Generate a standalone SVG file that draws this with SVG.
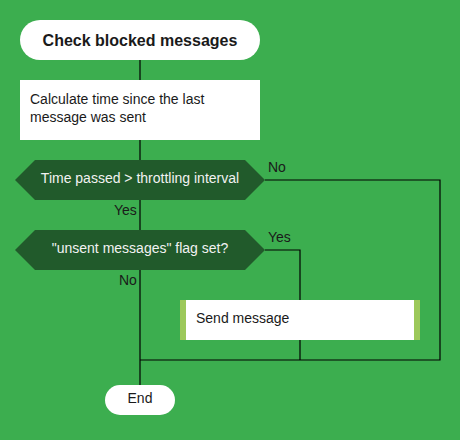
<svg xmlns="http://www.w3.org/2000/svg" width="460" height="440" viewBox="0 0 460 440">
<style>
text{font-family:"Liberation Sans",Arial,sans-serif;font-size:14px;fill:#1a1a1a}
.t{fill:#fff}
.d{fill:#215a2b}
.dt{fill:#f2f2f2;text-anchor:middle}
.c{text-anchor:middle}
.ln{fill:none;stroke:#000;stroke-width:1.2}
</style>
<rect width="460" height="440" fill="#3cae4f"/>
<g id="connectors">
<path class="ln" d="M140 60V80M140 140V160M140 200V230M140 270V385M265 180H440V360H140M265 250H300V300M300 340V360"/>
<text x="268" y="172">No</text>
<text x="114" y="215">Yes</text>
<text x="268" y="242">Yes</text>
<text x="119" y="285">No</text>
</g>
<g id="start">
<rect class="t" x="20" y="20" width="240" height="40" rx="20"/>
<text class="c" x="140" y="46" style="font-weight:bold;font-size:16px">Check blocked messages</text>
</g>
<g id="calc">
<rect class="t" x="20" y="80" width="240" height="60"/>
<text x="30" y="104">Calculate time since the last</text>
<text x="30" y="122">message was sent</text>
</g>
<g id="decision1">
<polygon class="d" points="15,180 35,160 245,160 265,180 245,200 35,200"/>
<text class="dt" x="140" y="183">Time passed &gt; throttling interval</text>
</g>
<g id="decision2">
<polygon class="d" points="15,250 35,230 245,230 265,250 245,270 35,270"/>
<text class="dt" x="140" y="253">"unsent messages" flag set?</text>
</g>
<g id="send">
<rect class="t" x="180" y="300" width="240" height="40"/>
<rect x="180" y="300" width="6" height="40" fill="#9cc85a"/>
<rect x="414" y="300" width="6" height="40" fill="#9cc85a"/>
<text x="196" y="323">Send message</text>
</g>
<g id="end">
<rect class="t" x="105" y="385" width="70" height="30" rx="15"/>
<text class="c" x="140" y="403">End</text>
</g>
</svg>
